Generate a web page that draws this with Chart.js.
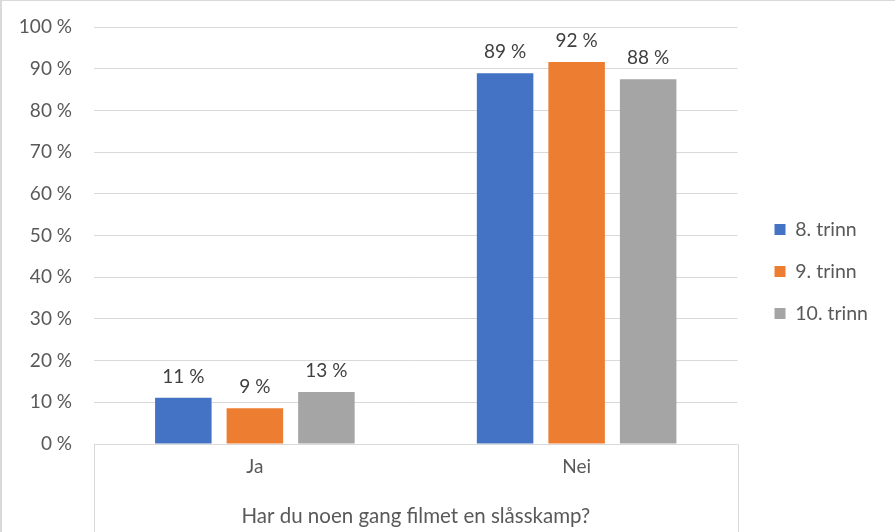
<!DOCTYPE html>
<html>
<head>
<meta charset="utf-8">
<script src="https://cdn.jsdelivr.net/npm/chart.js@4/dist/chart.umd.min.js"></script>
<style>
  html, body { margin: 0; padding: 0; background: #fff; }
  #wrap { width: 895px; height: 532px; box-sizing: border-box; border-left: 2px solid #d9d9d9; border-top: 1px solid #d9d9d9; }
  canvas { display: block; }
</style>
</head>
<body>
<div id="wrap"><canvas id="chart" width="893" height="531"></canvas></div>
<script>
// Data (percent)
const categories = ['Ja', 'Nei'];
const seriesNames = ['8. trinn', '9. trinn', '10. trinn'];
const trinn8 = [11.1, 88.9];
const trinn9 = [8.6, 91.6];
const trinn10 = [12.5, 87.5];
const yTicks = [0, 10, 20, 30, 40, 50, 60, 70, 80, 90, 100];
const axisTitle = 'Har du noen gang filmet en slåsskamp?';

const colors = ['#4472C4', '#ED7D31', '#A5A5A5'];
const textGray = '#595959';
const lineGray = '#D9D9D9';
const fontFamily = 'Lato, "Open Sans", sans-serif';

// value labels above each bar
const barLabels = {
    id: 'barLabels',
    afterDatasetsDraw(chart) {
        const ctx = chart.ctx;
        ctx.save();
        ctx.font = '19px ' + fontFamily;
        ctx.fillStyle = '#404040';
        ctx.textAlign = 'center';
        ctx.textBaseline = 'middle';
        chart.data.datasets.forEach((ds, i) => {
            chart.getDatasetMeta(i).data.forEach((bar, j) => {
                ctx.fillText(Math.round(ds.data[j]) + ' %', bar.x, bar.y - 21);
            });
        });
        ctx.restore();
    }
};

// side lines of the category axis box
const axisFrame = {
    id: 'axisFrame',
    afterDraw(chart) {
        const { ctx, chartArea } = chart;
        ctx.save();
        ctx.strokeStyle = lineGray;
        ctx.lineWidth = 1;
        ctx.beginPath();
        [chartArea.left, chartArea.right].forEach(x => {
            const px = Math.round(x) + 0.5;
            ctx.moveTo(px, chartArea.bottom);
            ctx.lineTo(px, chart.height);
        });
        ctx.stroke();
        ctx.restore();
    }
};

const datasets = [trinn8, trinn9, trinn10].map((d, i) => ({
    label: seriesNames[i],
    data: d,
    backgroundColor: colors[i],
    categoryPercentage: 0.667,
    barPercentage: 0.79
}));

new Chart(document.getElementById('chart').getContext('2d'), {
    type: 'bar',
    data: { labels: categories, datasets: datasets },
    plugins: [barLabels, axisFrame],
    options: {
        responsive: false,
        animation: false,
        layout: { padding: { top: 26, right: 17, bottom: 16, left: 0 } },
        plugins: {
            tooltip: { enabled: false },
            legend: {
                position: 'right',
                labels: {
                    boxWidth: 11,
                    boxHeight: 11,
                    padding: 22.5,
                    color: textGray,
                    font: { family: fontFamily, size: 19.5 }
                }
            }
        },
        scales: {
            x: {
                grid: { display: false },
                border: { display: false },
                ticks: { color: textGray, padding: 3.6, font: { family: fontFamily, size: 19 } },
                title: {
                    display: true,
                    text: axisTitle,
                    color: textGray,
                    padding: { top: 0, bottom: -12.4 },
                    font: { family: fontFamily, size: 20.5 }
                },
                afterFit(scale) {
                    scale.height = 72;
                    scale.paddingLeft = 0;
                    scale.paddingRight = 0;
                }
            },
            y: {
                min: 0,
                max: 100,
                afterBuildTicks(scale) { scale.ticks = yTicks.map(v => ({ value: v })); },
                grid: { color: lineGray, drawTicks: false },
                border: { display: false },
                ticks: {
                    color: textGray,
                    padding: 22,
                    font: { family: fontFamily, size: 19 },
                    callback: v => v + ' %'
                },
                afterFit(scale) {
                    scale.width = 92;
                    scale.paddingTop = 0;
                    scale.paddingBottom = 0;
                }
            },
            y2: {
                type: 'linear',
                position: 'right',
                grid: { display: false },
                border: { display: false },
                ticks: { display: false },
                afterFit(scale) {
                    scale.width = 14.5;
                    scale.paddingTop = 0;
                    scale.paddingBottom = 0;
                }
            }
        }
    }
});
</script>
</body>
</html>
